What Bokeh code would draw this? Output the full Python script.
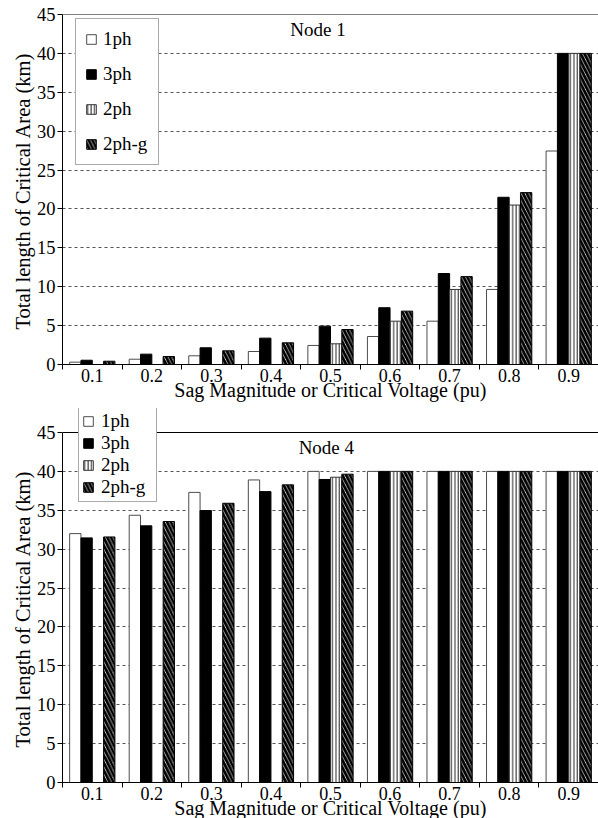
from bokeh.plotting import figure
from bokeh.models import Range1d, FixedTicker, Legend, LegendItem, Span, Label, Title
from bokeh.layouts import column
from bokeh.embed import file_html
from bokeh.resources import INLINE

# ---------------- data ----------------
categories = ["0.1", "0.2", "0.3", "0.4", "0.5", "0.6", "0.7", "0.8", "0.9"]
series_names = ["1ph", "3ph", "2ph", "2ph-g"]

node1_1ph = [0.30, 0.68, 1.12, 1.67, 2.45, 3.60, 5.57, 9.65, 27.45]
node1_3ph = [0.55, 1.33, 2.15, 3.39, 4.93, 7.30, 11.70, 21.50, 40.0]
node1_2ph = [0.0, 0.0, 0.0, 0.0, 2.66, 5.57, 9.65, 20.50, 40.0]
node1_2phg = [0.42, 1.03, 1.76, 2.79, 4.50, 6.86, 11.30, 22.10, 40.0]

node4_1ph = [32.00, 34.36, 37.30, 38.90, 40.0, 40.0, 40.0, 40.0, 40.0]
node4_3ph = [31.45, 33.00, 34.97, 37.40, 38.96, 40.0, 40.0, 40.0, 40.0]
node4_2ph = [0.0, 0.0, 0.0, 0.0, 39.25, 40.0, 40.0, 40.0, 40.0]
node4_2phg = [31.57, 33.55, 35.90, 38.27, 39.64, 40.0, 40.0, 40.0, 40.0]

y_ticks = [0, 5, 10, 15, 20, 25, 30, 35, 40, 45]
y_max = 45
x_label = "Sag Magnitude or Critical Voltage (pu)"
y_label = "Total length of Critical Area (km)"

FONT = "Liberation Serif"

styles = {
    "1ph": dict(fill_color="white", line_color="#4d4d4d"),
    "3ph": dict(fill_color="black", line_color="black"),
    "2ph": dict(fill_color="white", line_color="#333333", hatch_pattern="|",
                hatch_scale=3.4, hatch_weight=1, hatch_color="#222222"),
    "2ph-g": dict(fill_color="white", line_color="black", hatch_pattern="\\",
                  hatch_scale=7.5, hatch_weight=2.8, hatch_color="black"),
}
offsets = [-0.285, -0.095, 0.095, 0.285]

PLOT_H = 350          # pixels covering 0..45
PX_PER_UNIT = PLOT_H / y_max


def make_fig(title, title_x, series, border_top, border_bottom, extra_top_px,
             legend_loc, legend_spacing, legend_padding, legend_label_width,
             legend_standoff):
    n = len(categories)
    y_end = y_max + extra_top_px / PX_PER_UNIT
    p = figure(frame_width=536, frame_height=PLOT_H + extra_top_px,
               x_range=Range1d(0, n), y_range=Range1d(0, y_end),
               output_backend="svg", toolbar_location=None,
               min_border_left=62, min_border_right=0,
               min_border_top=border_top, min_border_bottom=border_bottom)
    p.outline_line_color = None
    p.background_fill_color = "white"
    p.border_fill_color = "white"

    centers = [i + 0.5 for i in range(n)]
    items = []
    for name, vals, off in zip(series_names, series, offsets):
        r = p.vbar(x=[c + off for c in centers], top=vals, bottom=0,
                   width=0.19, line_width=1, **styles[name])
        items.append(LegendItem(label=name, renderers=[r]))

    # x axis: labels at category centres, tick marks at category boundaries
    xa = p.xaxis[0]
    xa.ticker = FixedTicker(ticks=centers, minor_ticks=list(range(n + 1)))
    xa.major_label_overrides = {c: cat for c, cat in zip(centers, categories)}
    xa.major_tick_out = 0
    xa.major_tick_in = 0
    xa.minor_tick_out = 5
    xa.minor_tick_in = 0
    xa.minor_tick_line_color = "black"
    xa.axis_line_color = "black"
    xa.major_label_text_font = FONT
    xa.major_label_text_font_size = "18px"
    xa.major_label_text_color = "black"
    xa.major_label_standoff = -1
    xa.axis_label = x_label
    xa.axis_label_text_font = FONT
    xa.axis_label_text_font_size = "20px"
    xa.axis_label_text_font_style = "normal"
    xa.axis_label_text_color = "black"
    xa.axis_label_standoff = -6

    ya = p.yaxis[0]
    ya.ticker = FixedTicker(ticks=y_ticks, minor_ticks=[])
    ya.bounds = (0, y_max)
    ya.major_tick_out = 5
    ya.major_tick_in = 0
    ya.axis_line_color = "black"
    ya.major_tick_line_color = "black"
    ya.major_label_text_font = FONT
    ya.major_label_text_font_size = "18.5px"
    ya.major_label_text_color = "black"
    ya.major_label_standoff = 2

    # y axis title as a side title, positioned relative to the 0..45 span
    p.add_layout(Title(text=y_label, align="left", offset=35, standoff=0,
                       text_font=FONT, text_font_size="20.5px",
                       text_font_style="normal", text_color="black"), "left")

    p.xgrid.visible = False
    p.ygrid.ticker = FixedTicker(ticks=y_ticks[1:-1], minor_ticks=[])
    p.ygrid.grid_line_color = "#555555"
    p.ygrid.grid_line_dash = "3 3"
    p.ygrid.grid_line_width = 1

    p.add_layout(Span(location=y_max, dimension="width", line_color="black",
                      line_width=1))

    p.add_layout(Label(x=title_x, y=y_max, text=title, text_font=FONT,
                       text_font_size="19px", text_align="center",
                       text_baseline="top", y_offset=-4, text_color="black"))

    legend = Legend(items=items, location=legend_loc)
    legend.label_text_font = FONT
    legend.label_text_font_size = "19px"
    legend.label_text_color = "black"
    legend.glyph_width = 12
    legend.glyph_height = 12
    legend.label_standoff = legend_standoff
    legend.spacing = legend_spacing
    legend.padding = legend_padding
    legend.label_width = legend_label_width
    legend.margin = 0
    legend.border_line_color = "#555555"
    legend.border_line_width = 1
    legend.background_fill_color = "white"
    legend.background_fill_alpha = 1
    p.add_layout(legend, "center")
    return p


p1 = make_fig("Node 1", 4.29, [node1_1ph, node1_3ph, node1_2ph, node1_2phg],
              border_top=14, border_bottom=36, extra_top_px=0,
              legend_loc=(13, 199), legend_spacing=13, legend_padding=9,
              legend_label_width=46, legend_standoff=6)
p2 = make_fig("Node 4", 4.43, [node4_1ph, node4_3ph, node4_2ph, node4_2phg],
              border_top=5, border_bottom=38, extra_top_px=24,
              legend_loc=(16, 280), legend_spacing=-1, legend_padding=3,
              legend_label_width=52, legend_standoff=7)

layout = column(p1, p2, spacing=0)
open("out.html", "w").write(file_html(layout, INLINE))
